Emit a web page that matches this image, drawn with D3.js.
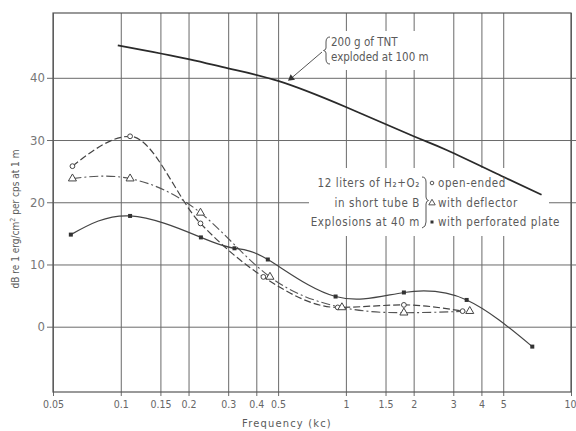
<!DOCTYPE html>
<html><head><meta charset="utf-8">
<script src="https://cdn.jsdelivr.net/npm/d3@7/dist/d3.min.js"></script>
<style>
html,body{margin:0;padding:0;background:#fff;}
svg{display:block;}
text{font-family:"Liberation Sans Narrow","DejaVu Sans Condensed","Open Sans",sans-serif;fill:#5a5a5a;}
</style></head>
<body>
<svg id="chart" width="576" height="431"></svg>
<script>
// ---- data ----
const xTickValues = [0.05,0.1,0.15,0.2,0.3,0.4,0.5,1,1.5,2,3,4,5,10];
const xTickLabels = ["0.05","0.1","0.15","0.2","0.3","0.4","0.5","1","1.5","2","3","4","5","10"];
const yTickValues = [0,10,20,30,40];

const tntFreq = [0.097,0.2,0.3,0.5,1,2,2.8,5,7.4];
const tntDb   = [45.2,43,41.5,39.5,35.3,30.6,28.4,24.1,21.2];

const openFreq = [0.061,0.11,0.226,0.43,0.92,1.81,3.3];
const openDb   = [25.8,30.6,16.6,8.0,3.1,3.5,2.5];

const deflFreq = [0.061,0.11,0.226,0.46,0.96,1.81,3.55];
const deflDb   = [23.8,23.8,18.3,8.0,3.1,2.25,2.5];

const perfFreq = [0.06,0.11,0.227,0.32,0.45,0.90,1.81,3.44,6.73];
const perfDb   = [14.8,17.8,14.35,12.6,10.8,4.85,5.5,4.3,-3.2];

const legendLeft  = ["12 liters of H\u2082+O\u2082","in short tube B","Explosions at 40 m"];
const legendRight = ["open-ended","with deflector","with perforated plate"];
const tntNote = ["200 g of TNT","exploded at 100 m"];

// ---- layout ----
const svg = d3.select("#chart");
const L = 53, R = 571, T = 13, B = 392;
const x = d3.scaleLog().domain([0.05,10]).range([L,R]);
const y = d3.scaleLinear().domain([0,40]).range([326.7,77.8]);
const zip = (a,b) => a.map((v,i)=>[v,b[i]]);

// gridlines via axes
const gx = svg.append("g").attr("transform",`translate(0,${B})`)
  .call(d3.axisBottom(x).tickValues(xTickValues).tickFormat((d,i)=>xTickLabels[i]).tickSize(-(B-T)).tickSizeOuter(0));
gx.select(".domain").remove();
gx.selectAll(".tick line").attr("stroke","#6a6a6a").attr("stroke-width",1).attr("y1",4);
gx.selectAll(".tick text").attr("y",9).attr("dy","0.71em").style("font-size","10.5px").style("fill","#666");
gx.selectAll(".tick text").filter(d=>d===10).attr("text-anchor","end").attr("x",5);

const gy = svg.append("g").attr("transform",`translate(${L},0)`)
  .call(d3.axisLeft(y).tickValues(yTickValues).tickSize(-(576-L)).tickSizeOuter(0));
gy.select(".domain").remove();
gy.selectAll(".tick line").attr("stroke","#6a6a6a").attr("stroke-width",1).attr("x1",-6);
gy.selectAll(".tick text").attr("x",-8).style("font-size","13px").style("fill","#777");

// frame
svg.append("rect").attr("x",L).attr("y",T).attr("width",R-L).attr("height",B-T)
  .attr("fill","none").attr("stroke","#555").attr("stroke-width",1.2);

// white patches behind annotations (gridlines are broken there)
svg.append("rect").attr("x",320).attr("y",31).attr("width",112).attr("height",39).attr("fill","#fff");
svg.append("rect").attr("x",309).attr("y",168).attr("width",240).attr("height",68).attr("fill","#fff");

// lines
const lineOf = c => d3.line().x(d=>x(d[0])).y(d=>y(d[1])).curve(c);
svg.append("path").datum(zip(tntFreq,tntDb)).attr("d",lineOf(d3.curveNatural))
  .attr("fill","none").attr("stroke","#2a2a2a").attr("stroke-width",1.8);
svg.append("path").datum(zip(openFreq,openDb)).attr("d",lineOf(d3.curveMonotoneX))
  .attr("fill","none").attr("stroke","#444").attr("stroke-width",1.2).attr("stroke-dasharray","7,3");
svg.append("path").datum(zip(deflFreq,deflDb)).attr("d",lineOf(d3.curveNatural))
  .attr("fill","none").attr("stroke","#555").attr("stroke-width",1.1).attr("stroke-dasharray","9,3,2,3");
svg.append("path").datum(zip(perfFreq,perfDb)).attr("d",lineOf(d3.curveNatural))
  .attr("fill","none").attr("stroke","#444").attr("stroke-width",1.2);

// markers
svg.append("g").selectAll("circle").data(zip(openFreq,openDb)).join("circle")
  .attr("cx",d=>x(d[0])).attr("cy",d=>y(d[1])).attr("r",2.4)
  .attr("fill","#fff").attr("stroke","#444").attr("stroke-width",1);
const tri = d3.symbol().type(d3.symbolTriangle).size(28);
svg.append("g").selectAll("path").data(zip(deflFreq,deflDb)).join("path")
  .attr("d",tri).attr("transform",d=>`translate(${x(d[0])},${y(d[1])})`)
  .attr("fill","#fff").attr("stroke","#444").attr("stroke-width",1);
svg.append("g").selectAll("rect").data(zip(perfFreq,perfDb)).join("rect")
  .attr("x",d=>x(d[0])-2).attr("y",d=>y(d[1])-2).attr("width",4).attr("height",4)
  .attr("fill","#333");

// TNT annotation
svg.append("line").attr("x1",322).attr("y1",52).attr("x2",x(0.56)+2).attr("y2",y(39.6)-2)
  .attr("stroke","#555").attr("stroke-width",1);
svg.append("path").attr("d",d3.symbol().type(d3.symbolTriangle).size(22))
  .attr("transform",`translate(${x(0.56)+2},${y(39.6)-2}) rotate(-128)`).attr("fill","#333");
svg.append("path").attr("d","M330,37 Q326,37 326,42 L326,48 Q326,50 323.5,50.5 Q326,51 326,53 L326,59 Q326,64 330,64")
  .attr("fill","none").attr("stroke","#555").attr("stroke-width",1);
svg.selectAll(".tnt").data(tntNote).join("text").attr("class","tnt")
  .attr("x",331).attr("y",(d,i)=>46+i*15).text(d=>d).style("font-size","11.5px");

// legend
svg.selectAll(".ll").data(legendLeft).join("text").attr("class","ll")
  .attr("x",420).attr("y",(d,i)=>187+i*19.5).attr("text-anchor","end").text(d=>d)
  .style("font-size","11.5px").style("letter-spacing","0.6px");
svg.selectAll(".lr").data(legendRight).join("text").attr("class","lr")
  .attr("x",438).attr("y",(d,i)=>187+i*19.5).text(d=>d)
  .style("font-size","11.5px").style("letter-spacing","0.6px");
svg.append("path").attr("d","M422,177 Q426,177 426,182 L426,197 Q426,200 428.5,200.5 Q426,201 426,204 L426,222 Q426,227 422,228")
  .attr("fill","none").attr("stroke","#555").attr("stroke-width",1);
svg.append("circle").attr("cx",432).attr("cy",183).attr("r",1.8).attr("fill","#fff").attr("stroke","#555");
svg.append("path").attr("d",d3.symbol().type(d3.symbolTriangle).size(18)).attr("transform","translate(432,203)")
  .attr("fill","#fff").attr("stroke","#555");
svg.append("rect").attr("x",430.5).attr("y",220.5).attr("width",3).attr("height",3).attr("fill","#333");

// axis titles
svg.append("text").attr("x",287).attr("y",427).attr("text-anchor","middle")
  .style("font-size","11px").style("letter-spacing","1.2px").text("Frequency (kc)");
svg.append("text").attr("transform","translate(19,219) rotate(-90)").attr("text-anchor","middle")
  .style("font-size","10px")
  .html('dB re 1 erg/cm<tspan dy="-4" style="font-size:7px">2</tspan><tspan dy="4"> per cps at 1 m</tspan>');
</script>
</body></html>
